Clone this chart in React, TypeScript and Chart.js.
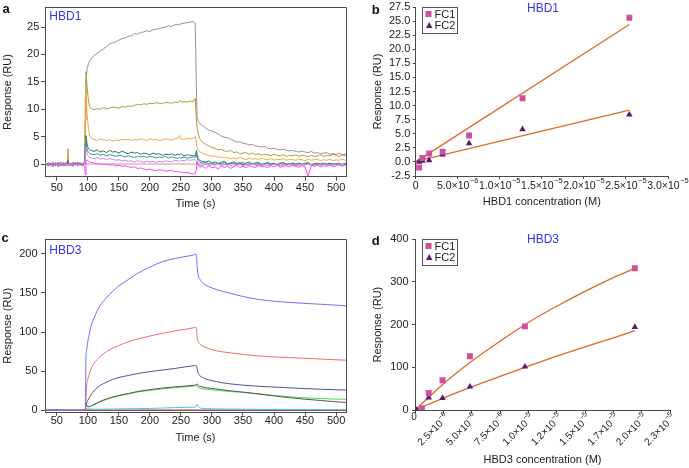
import React, { useEffect, useRef } from "react";
import { Chart, registerables } from "chart.js";
Chart.register(...registerables);

const FONT = "'Liberation Sans', Arial, Helvetica, sans-serif";
const AXIS = "#4a4a4a";
const TXT = "#222222";
const TITLE_BLUE = "#3535f5";
const FIT = "#dc6a24";
const FC1_COLOR = "#cc52a0";
const FC2_COLOR = "#5b1c6e";

// ---------------- Panel a (HBD1 sensorgrams) ----------------
const TA = [
  32, 36, 40, 44, 48, 52, 56, 60, 64, 67, 68, 69, 72, 76, 80, 84, 88, 92, 95,
  96, 97, 99, 101, 103, 106,
  110, 115, 120, 125, 130, 135, 140, 145, 150, 155, 160, 165, 170, 175, 180, 185, 190, 195, 200, 205, 210, 215, 220, 225, 230, 235, 240, 245, 248, 250, 255, 260, 265, 270,
  273, 275,
  276, 278, 281,
  285, 290, 295, 300, 305, 310, 315, 320, 325, 330, 335, 340, 345, 350, 355, 360, 365, 370, 375, 380, 385, 390, 395, 400, 405, 410, 415, 420, 425, 430, 435, 440, 445, 450, 455, 460, 465, 470, 475, 480, 485, 490, 495, 500, 505, 510, 515, 520,
];
const A_MAUVE = [
  0.1, -0.3, 0.2, -0.1, 0.3, -0.2, 0.1, -0.4, 0.2, 0.0, 0.3, -0.1, 0.2, -0.3, 0.1, 0.3, -0.2, 0.2, 0.1,
  8, 15, 17.5, 18.3, 18.8, 19.3,
  19.8, 20.2, 20.6, 21.0, 21.4, 21.9, 22.1, 22.3, 22.6, 22.9, 23.0, 23.3, 23.4, 23.8, 23.7, 24.0, 24.1, 24.3, 24.2, 24.5, 24.6, 24.7, 24.9, 25.0, 25.2, 25.1, 25.4, 25.5, 25.4, 25.6, 25.7, 25.8, 25.9, 26.0,
  25.8, 14,
  8.5, 7.8, 7.3,
  7.0, 6.6, 6.2, 6.0, 5.8, 5.5, 5.1, 4.9, 4.8, 4.5, 4.3, 4.0, 4.1, 3.8, 3.7, 3.5, 3.6, 3.3, 3.2, 3.1, 3.2, 2.9, 2.8, 2.9, 2.7, 2.6, 2.7, 2.5, 2.4, 2.5, 2.3, 2.2, 2.4, 2.2, 2.1, 2.3, 2.0, 2.1, 1.9, 2.0, 2.1, 1.8, 1.9, 1.8, 2.0, 1.7, 1.8, 1.7,
];
const A_OLIVE = [
  -0.2, 0.3, -0.1, 0.2, -0.3, 0.1, 0.4, -0.2, 0.0, 0.5, 2.8, 0.2, -0.3, 0.2, -0.1, 0.3, -0.2, 0.1, 0.3,
  12, 16.8, 14, 11.5, 10.5, 10.1,
  9.9, 10.1, 10.0, 10.3, 10.1, 10.2, 10.4, 10.3, 10.2, 10.5, 10.4, 10.6, 10.5, 10.7, 10.9, 10.8, 11.0, 10.9, 11.1, 11.0, 11.2, 11.1, 11.0, 11.3, 11.2, 11.1, 11.3, 11.2, 11.6, 11.3, 11.4, 11.3, 11.5, 11.4,
  12.0, 8,
  6.5, 5.5, 4.5,
  4.0, 3.6, 3.3, 3.0, 2.9, 2.6, 2.7, 2.4, 2.3, 2.5, 2.1, 2.2, 1.9, 2.0, 2.1, 1.8, 2.0, 1.7, 1.9, 1.6, 1.8, 1.7, 1.5, 1.8, 1.6, 1.5, 1.7, 1.4, 1.6, 1.5, 1.7, 1.4, 1.6, 1.5, 1.3, 1.6, 1.4, 1.5, 1.7, 1.4, 1.6, 1.5, 1.8, 1.6, 1.4, 1.7, 1.5, 1.6,
];
const A_ORANGE = [
  0.3, -0.2, 0.1, -0.4, 0.2, 0.0, -0.2, 0.3, -0.1, 0.2, 1.5, -0.3, 0.1, -0.2, 0.3, 0.0, 0.2, -0.3, 0.1,
  8, 13.5, 9, 6.5, 5.2, 4.7,
  4.5, 4.3, 4.6, 4.4, 4.3, 4.5, 4.2, 4.4, 4.3, 4.5, 4.4, 4.6, 4.3, 4.5, 4.4, 4.6, 4.5, 4.3, 4.6, 4.4, 4.5, 4.3, 4.4, 4.6, 4.5, 4.4, 4.6, 4.7, 5.2, 4.6, 4.5, 4.7, 4.6, 4.7,
  5.0, 4.0,
  3.0, 2.6, 2.2,
  2.0, 1.7, 1.6, 1.4, 1.5, 1.2, 1.3, 1.1, 1.2, 1.0, 1.1, 0.9, 1.2, 1.0, 0.8, 1.1, 0.9, 1.0, 0.8, 1.1, 0.9, 0.8, 1.0, 0.7, 0.9, 0.8, 1.0, 0.7, 0.9, 0.8, 0.7, 0.9, 0.8, 0.6, 0.9, 0.7, 0.8, 0.9, 0.6, 0.8, 0.7, 0.9, 0.6, 0.8, 0.7, 0.9, 0.7, 0.8,
];
const A_GREEN = [
  -0.3, 0.2, -0.1, 0.3, -0.2, 0.1, -0.3, 0.0, 0.2, -0.1, 0.8, 0.1, -0.2, 0.3, -0.1, 0.2, 0.0, -0.3, 0.2,
  3.5, 5.2, 3.5, 2.8, 2.6, 2.5,
  2.3, 2.6, 2.2, 2.4, 2.1, 2.5, 2.2, 2.3, 2.0, 2.4, 2.1, 1.9, 2.2, 2.0, 2.1, 1.8, 2.0, 1.9, 1.7, 2.0, 1.8, 1.9, 1.6, 1.8, 1.7, 1.9, 1.6, 1.8, 1.7, 1.9, 1.5, 1.7, 1.6, 1.5,
  1.6, 2.5,
  1.8, 1.0, 0.6,
  0.5, 0.3, 0.6, 0.2, 0.4, 0.1, 0.3, 0.5, 0.0, 0.2, 0.4, 0.1, 0.3, -0.1, 0.2, 0.4, 0.0, 0.2, 0.3, -0.1, 0.1, 0.3, 0.0, 0.2, -0.2, 0.1, 0.3, 0.0, -0.1, 0.2, 0.0, 0.2, -0.1, 0.1, 0.3, -0.2, 0.0, 0.2, -0.1, 0.1, 0.0, 0.2, -0.2, 0.1, 0.0, -0.1, 0.2, 0.0,
];
const A_TEAL = [
  0.2, -0.4, 0.1, -0.2, 0.3, -0.5, 0.0, 0.2, -0.3, 0.1, 0.3, -0.2, 0.1, -0.4, 0.2, -0.1, 0.3, -0.2, 0.0,
  2.5, 4.0, 2.6, 2.1, 1.9, 1.8,
  1.7, 1.9, 1.6, 1.8, 1.5, 1.7, 1.6, 1.4, 1.6, 1.5, 1.3, 1.5, 1.4, 1.2, 1.4, 1.3, 1.5, 1.2, 1.4, 1.3, 1.1, 1.3, 1.2, 1.4, 1.1, 1.3, 1.2, 1.0, 1.2, 1.1, 1.3, 1.1, 1.2, 1.3,
  1.2, 1.8,
  1.2, 0.6, 0.3,
  0.2, 0.4, 0.0, 0.3, -0.1, 0.2, 0.0, 0.3, -0.2, 0.1, 0.2, -0.1, 0.1, 0.3, -0.2, 0.0, 0.2, -0.1, 0.1, -0.3, 0.0, 0.2, -0.2, 0.1, -0.1, 0.2, 0.0, -0.2, 0.1, 0.0, -0.3, 0.1, -0.1, 0.2, 0.0, -0.2, 0.1, -0.1, 0.0, 0.2, -0.2, 0.0, 0.1, -0.1, 0.2, -0.2, 0.0, 0.1,
];
const A_VIOLET = [
  -0.2, 0.1, -0.4, 0.2, 0.0, -0.3, 0.3, -0.1, 0.1, -0.2, 0.2, 0.0, -0.3, 0.1, 0.3, -0.2, 0.0, 0.2, -0.1,
  2.5, 3.2, 1.8, 1.4, 1.2, 1.1,
  1.0, 1.2, 0.9, 1.1, 0.8, 1.0, 0.9, 0.7, 0.8, 0.6, 0.7, 0.5, 0.6, 0.4, 0.6, 0.5, 0.3, 0.5, 0.4, 0.5, 0.3, 0.5, 0.4, 0.6, 0.5, 0.4, 0.7, 0.6, 0.5, 0.7, 0.6, 0.8, 0.7, 0.8,
  0.8, 0.5,
  0.2, -0.1, -0.3,
  -0.2, 0.0, -0.3, -0.1, -0.2, 0.1, -0.3, -0.1, 0.0, -0.2, -0.4, -0.1, 0.0, -0.3, -0.1, -0.2, 0.1, -0.2, -0.3, 0.0, -0.1, -0.3, -0.2, 0.0, -0.1, -0.3, -0.2, 0.1, -0.1, -0.2, 0.0, -0.3, -0.1, -0.2, 0.0, -0.1, -0.3, 0.0, -0.2, -0.1, 0.1, -0.2, -0.1, 0.0, -0.2, -0.1, 0.0, -0.2,
];
const A_MAGENTA = [
  0.1, -0.3, 0.2, -0.5, 0.0, 0.3, -0.2, 0.1, -0.4, 0.2, 0.0, -0.3, 0.2, -0.1, 0.3, -0.4, 0.1, -0.2, -0.5,
  -2.0, 0.5, 0.8, 0.5, 0.4, 0.3,
  0.2, 0.0, 0.1, -0.1, 0.0, -0.2, -0.1, -0.3, -0.2, -0.4, -0.3, -0.5, -0.6, -0.5, -0.8, -0.7, -0.9, -1.0, -0.9, -1.1, -1.2, -1.0, -1.1, -1.3, -1.2, -1.1, -1.4, -1.3, -1.5, -1.4, -1.6, -1.5, -1.7, -1.8,
  -1.7, -1.0,
  0.5, -0.3, -0.6,
  -0.4, -0.8, -0.3, -0.7, -0.5, -0.9, -0.4, -0.6, -0.3, -0.8, -0.5, -0.2, -0.6, -0.4, -0.7, -0.3, -0.5, -0.6, -0.2, -0.5, -0.4, -0.7, -0.3, -0.5, -0.2, -0.6, -0.4, -0.3, -0.5, -0.2, -0.4, -0.6, -0.3, -0.5, -2.2, -0.3, -0.4, -0.2, -0.5, -0.3, -0.4, -0.2, -0.5, -0.3, -0.1, -0.4, -0.2, -0.3,
];
const A_BASE_T = [96, 516];
const A_BASE = [0, 0];
const A_X_TICKS = [50, 100, 150, 200, 250, 300, 350, 400, 450, 500];
const A_Y_TICKS = [0, 5, 10, 15, 20, 25];

// ---------------- Panel c (HBD3 sensorgrams) ----------------
const TC = [
  32, 50, 70, 90, 95,
  96, 97, 98, 100, 103, 106, 110, 115, 120,
  130, 140, 150, 165, 180, 200, 220, 240, 260, 270, 274, 275,
  276, 278, 281, 285, 290, 300, 315, 330, 350, 375, 400, 425, 450, 475, 500, 520,
];
const C_BLUE = [
  0.4, -0.3, 0.3, 0.0, 0.4,
  2, 68, 77, 88, 100, 110, 118, 127, 134,
  144, 152, 159, 167, 175, 183, 190, 194, 197, 198.5, 199.5, 199,
  185, 172, 167, 163, 160, 156.5, 152.5, 149.5, 145.5, 141.8, 139.5, 138, 136.7, 135.6, 134.5, 133.5,
];
const C_RED = [
  0.2, 0.0, -0.2, 0.3, 0.1,
  1, 15, 30, 40, 48, 54, 60, 65, 69,
  75, 79.5, 83, 87.5, 91, 95, 98.5, 101.5, 104, 105.5, 106, 105.8,
  95, 88, 84.5, 82, 80.5, 77.5, 75, 73.5, 71.5, 69.5, 68.3, 67.5, 66.5, 65.6, 64.6, 64,
];
const C_SLATE = [
  0.3, 0.1, -0.2, 0.2, 0.0,
  1, 6, 9, 13, 17, 21, 25, 29, 32,
  36, 39.5, 42, 44.5, 47, 49.5, 51.5, 53.5, 56, 57, 57.3, 57,
  54, 47, 44, 42, 40, 38, 35.5, 33.8, 32.2, 30.8, 29.8, 28.8, 27.8, 27, 26.3, 25.8,
];
const C_GRAY = [
  -0.2, 0.3, 0.0, -0.3, 0.2,
  1, 9, 7, 5, 5, 6, 7.5, 9.5, 11.5,
  14.5, 17, 19, 21.5, 24, 26.5, 28.5, 30, 31.3, 32, 32.5, 33,
  34, 31.5, 30.5, 29.8, 29, 28, 26.5, 25, 23.3, 21, 18.5, 16.2, 14.3, 12.6, 10.9, 10,
];
const C_GREEN = [
  0.0, -0.2, 0.2, 0.1, -0.1,
  1, 7, 6, 4.5, 4.5, 5.5, 7, 9, 11,
  14, 16.5, 18.5, 21, 23.5, 25.5, 27.5, 29, 30.3, 31, 31.3, 31.5,
  30.5, 29, 28, 27.5, 27, 26.2, 25, 24, 23, 21, 19, 17.4, 16, 15, 14.4, 14,
];
const C_CYAN = [
  0.1, 0.0, 0.2, -0.1, 0.0,
  0.5, 3, 2.5, 2, 1.8, 1.6, 1.5, 1.5, 1.5,
  1.6, 1.7, 1.8, 2, 2.2, 2.5, 3, 3.5, 3.8, 4, 4.2, 6,
  8, 5, 3, 2.5, 2.2, 2, 1.8, 1.6, 1.5, 1.3, 1.2, 1.1, 1, 0.9, 0.8, 0.8,
];
const C_BASE_T = [31, 516];
const C_BASE = [0, 0];
const C_Y_TICKS = [0, 50, 100, 150, 200];

// ---------------- Panel b (HBD1 binding) ----------------
const B_CONC = [4e-7, 8e-7, 1.6e-6, 3.2e-6, 6.35e-6, 1.27e-5, 2.54e-5];
const B_FC1 = [-1.0, 0.7, 1.5, 1.8, 4.7, 11.3, 25.6];
const B_FC2 = [0.0, 0.2, 0.3, 1.3, 3.3, 5.8, 8.4];
const B_FIT_X = [0, 2.54e-5];
const B_FIT1 = [0.0, 24.4];
const B_FIT2 = [0.1, 9.2];
const B_X_TICKS = [0, 5e-6, 1e-5, 1.5e-5, 2e-5, 2.5e-5, 3e-5];
const B_X_LABELS = ["0", "5.0×10⁻⁶", "1.0×10⁻⁵", "1.5×10⁻⁵", "2.0×10⁻⁵", "2.5×10⁻⁵", "3.0×10⁻⁵"];
const B_Y_TICKS = [-2.5, 0, 2.5, 5, 7.5, 10, 12.5, 15, 17.5, 20, 22.5, 25, 27.5];

// ---------------- Panel d (HBD3 binding) ----------------
const D_FC1_X = [6.1e-7, 1.21e-6, 2.43e-6, 4.85e-6, 9.7e-6, 1.94e-5];
const D_FC1 = [4, 40, 69.5, 126, 196, 332];
const D_FC2_X = [1.5e-7, 1.21e-6, 2.43e-6, 4.85e-6, 9.7e-6, 1.94e-5];
const D_FC2 = [0, 29, 28, 54.6, 101.5, 194.5];
const D_FIT_X = [0, 2.5e-6, 5e-6, 7.5e-6, 1e-5, 1.25e-5, 1.5e-5, 1.75e-5, 1.94e-5];
const D_FIT1 = [0, 61, 114, 161, 205, 243, 278, 310, 332];
const D_FIT2 = [0, 28, 54, 79, 103, 126, 148, 169, 186];
const D_X_TICKS = [0, 2.5e-6, 5e-6, 7.5e-6, 1e-5, 1.25e-5, 1.5e-5, 1.75e-5, 2e-5, 2.25e-5];
const D_X_LABELS = ["0", "2.5×10⁻⁶", "5.0×10⁻⁶", "7.5×10⁻⁶", "1.0×10⁻⁵", "1.2×10⁻⁵", "1.5×10⁻⁵", "1.7×10⁻⁵", "2.0×10⁻⁵", "2.3×10⁻⁵"];
const D_Y_TICKS = [0, 100, 200, 300, 400];

// ---------------- helpers ----------------
const pts = (xs: number[], ys: number[]) => xs.map((x, i) => ({ x, y: ys[i] }));

const SUP = "⁰¹²³⁴⁵⁶⁷⁸⁹⁻";
const NORM = "0123456789−";
function splitSci(label: string) {
  let k = -1;
  for (let i = 0; i < label.length; i++) {
    if (SUP.indexOf(label[i]) >= 0) { k = i; break; }
  }
  if (k < 0) return { mant: label, exp: "" };
  const exp = label.slice(k).split("").map((c) => NORM[SUP.indexOf(c)] || c).join("");
  return { mant: label.slice(0, k), exp };
}

type Txt = { text: string; x: number; y: number; font: string; color: string; align?: CanvasTextAlign };
type LegItem = { label: string; style: string; color: string; mx: number; my: number; tx: number; ty: number };
type Leg = { x: number; y: number; w: number; h: number; items: LegItem[] };
type Sci = { ticks: number[]; labels: string[]; rot: boolean; size: number; esize: number; tl: number; dx: number; dy: number };

const ap = (v: number) => Math.round(v - 0.5) + 0.5;

function extras(box: boolean, texts: Txt[], legend?: Leg, sci?: Sci) {
  return {
    id: "extras",
    afterDraw(chart: any) {
      const ctx = chart.ctx as CanvasRenderingContext2D;
      const ca = chart.chartArea;
      ctx.save();
      if (box) {
        ctx.strokeStyle = AXIS;
        ctx.lineWidth = 1;
        ctx.beginPath();
        ctx.moveTo(ap(ca.left), ap(ca.top));
        ctx.lineTo(ap(ca.right), ap(ca.top));
        ctx.lineTo(ap(ca.right), ap(ca.bottom));
        ctx.stroke();
      }
      if (sci) {
        const sx = chart.scales.x;
        const y0 = ca.bottom + sci.tl;
        ctx.fillStyle = TXT;
        ctx.textBaseline = "alphabetic";
        ctx.textAlign = "left";
        sci.ticks.forEach((v, i) => {
          const px = sx.getPixelForValue(v);
          const { mant, exp } = splitSci(sci.labels[i]);
          ctx.font = `${sci.size}px ${FONT}`;
          const wM = ctx.measureText(mant).width;
          ctx.font = `${sci.esize}px ${FONT}`;
          const wE = exp ? ctx.measureText(exp).width + 0.5 : 0;
          const base = 0.72 * sci.size;
          if (!sci.rot || !exp) {
            const x0 = sci.rot ? px - 1 - wM / 2 : px - (wM + wE) / 2;
            const yb = y0 + sci.dy + base;
            ctx.font = `${sci.size}px ${FONT}`;
            ctx.fillText(mant, x0, yb);
            if (exp) {
              ctx.font = `${sci.esize}px ${FONT}`;
              ctx.fillText(exp, x0 + wM + 0.5, yb - 0.5 * sci.size);
            }
          } else {
            ctx.save();
            ctx.translate(px + sci.dx, y0 + sci.dy);
            ctx.rotate(-Math.PI / 4);
            ctx.font = `${sci.size}px ${FONT}`;
            ctx.fillText(mant, -(wM + wE), base);
            ctx.font = `${sci.esize}px ${FONT}`;
            ctx.fillText(exp, -wE + 0.5, base - 0.5 * sci.size);
            ctx.restore();
          }
        });
      }
      if (legend) {
        ctx.strokeStyle = "#555";
        ctx.lineWidth = 1;
        ctx.strokeRect(ap(legend.x), ap(legend.y), Math.round(legend.w), Math.round(legend.h));
        for (const it of legend.items) {
          ctx.fillStyle = it.color;
          if (it.style === "rect") {
            ctx.fillRect(it.mx - 3, it.my - 3, 6, 6);
          } else {
            ctx.beginPath();
            ctx.moveTo(it.mx, it.my - 3.5);
            ctx.lineTo(it.mx + 3.2, it.my + 2.5);
            ctx.lineTo(it.mx - 3.2, it.my + 2.5);
            ctx.closePath();
            ctx.fill();
          }
          ctx.fillStyle = TXT;
          ctx.font = `11px ${FONT}`;
          ctx.textAlign = "left";
          ctx.textBaseline = "alphabetic";
          ctx.fillText(it.label, it.tx, it.ty);
        }
      }
      for (const t of texts) {
        ctx.font = t.font;
        ctx.fillStyle = t.color;
        ctx.textAlign = t.align || "left";
        ctx.textBaseline = "alphabetic";
        ctx.fillText(t.text, t.x, t.y);
      }
      ctx.restore();
    },
  };
}

function axisX(opts: any) {
  return {
    type: "linear",
    min: opts.min,
    max: opts.max,
    afterBuildTicks: (s: any) => {
      s.ticks = opts.ticks.map((v: number) => ({ value: v }));
    },
    afterFit: (s: any) => {
      s.height = opts.height;
      s.paddingLeft = 0;
      s.paddingRight = 0;
    },
    ticks: {
      display: !opts.custom,
      autoSkip: false,
      maxRotation: 0,
      padding: opts.pad,
      color: TXT,
      font: { family: FONT, size: 11 },
      callback: (v: any, i: number) => (opts.labels ? opts.labels[i] : String(v)),
    },
    grid: { drawOnChartArea: false, drawTicks: true, tickLength: opts.tl, color: AXIS },
    border: { display: true, color: AXIS, width: 1 },
    title: {
      display: true,
      text: opts.title,
      color: TXT,
      font: { family: FONT, size: 11 },
      padding: { top: 0, bottom: opts.tpad },
    },
  };
}

function axisY(opts: any) {
  return {
    type: "linear",
    min: opts.min,
    max: opts.max,
    afterBuildTicks: (s: any) => {
      s.ticks = opts.ticks.map((v: number) => ({ value: v }));
    },
    afterFit: (s: any) => {
      s.width = opts.width;
      s.paddingTop = 0;
      s.paddingBottom = 0;
    },
    ticks: {
      autoSkip: false,
      padding: opts.pad,
      color: TXT,
      font: { family: FONT, size: 11 },
      callback: (v: any) => (opts.fmt ? opts.fmt(v) : String(v)),
    },
    grid: { drawOnChartArea: false, drawTicks: true, tickLength: opts.tl, color: AXIS },
    border: { display: true, color: AXIS, width: 1 },
    title: {
      display: true,
      text: "Response (RU)",
      color: TXT,
      font: { family: FONT, size: 11 },
      padding: { top: opts.tpad, bottom: 0 },
    },
  };
}

const line = (data: any[], color: string, width = 1, extra: any = {}) => ({
  data,
  borderColor: color,
  backgroundColor: color,
  borderWidth: width,
  pointRadius: 0,
  showLine: true,
  fill: false,
  tension: 0,
  ...extra,
});

const baseOptions = (padding: any) => ({
  animation: false,
  responsive: false,
  events: [],
  layout: { padding },
  plugins: { legend: { display: false }, tooltip: { enabled: false } },
});

function configA() {
  return {
    type: "line",
    data: {
      datasets: [
        line(pts(TA, A_MAGENTA), "#ff44ff"),
        line(pts(TA, A_VIOLET), "#cf80f0"),
        line(pts(TA, A_TEAL), "#3394a6"),
        line(pts(TA, A_GREEN), "#2b7a4b"),
        line(pts(TA, A_ORANGE), "#f7a446"),
        line(pts(TA, A_OLIVE), "#a9a23a"),
        line(pts(TA, A_MAUVE), "#a48b90"),
        line(pts(A_BASE_T, A_BASE), "#e6cccc", 2),
      ],
    },
    options: {
      ...baseOptions({ left: 0, top: 7.3, right: 4, bottom: 0 }),
      scales: {
        x: axisX({ min: 31, max: 516, ticks: A_X_TICKS, height: 53.3, pad: 1, tl: 4, title: "Time (s)", tpad: 19.4 }),
        y: axisY({ min: -2.3, max: 28.6, ticks: A_Y_TICKS, width: 45, pad: 1.7, tl: 4, tpad: 1.7 }),
      },
    },
    plugins: [
      extras(true, [
        { text: "a", x: 2.5, y: 13.3, font: `bold 13px ${FONT}`, color: "#111" },
        { text: "HBD1", x: 49.3, y: 20, font: `12px ${FONT}`, color: TITLE_BLUE },
      ]),
    ],
  };
}

function configC() {
  const mono = { cubicInterpolationMode: "monotone" };
  return {
    type: "line",
    data: {
      datasets: [
        line(pts(TC, C_BLUE), "#7070f6", 1, mono),
        line(pts(TC, C_RED), "#f26c6c", 1, mono),
        line(pts(TC, C_SLATE), "#50509e", 1, mono),
        line(pts(TC, C_GRAY), "#555555", 1, mono),
        line(pts(TC, C_GREEN), "#44dd44", 1, mono),
        line(pts(TC, C_CYAN), "#44c8f0", 1, mono),
        line(pts(C_BASE_T, C_BASE), "#a24848", 1.5),
      ],
    },
    options: {
      ...baseOptions({ left: 0, top: 9, right: 4, bottom: 0 }),
      scales: {
        x: axisX({ min: 31, max: 516, ticks: A_X_TICKS, height: 55.3, pad: -1, tl: 3, title: "Time (s)", tpad: 23.1 }),
        y: axisY({ min: -3, max: 219, ticks: C_Y_TICKS, width: 45, pad: 3.5, tl: 4, tpad: 1.7 }),
      },
    },
    plugins: [
      extras(true, [
        { text: "c", x: 1.5, y: 12.3, font: `bold 13px ${FONT}`, color: "#111" },
        { text: "HBD3", x: 49.3, y: 24.3, font: `12px ${FONT}`, color: TITLE_BLUE },
      ]),
    ],
  };
}

function scatterSets(x1: number[], y1: number[], x2: number[], y2: number[], fx: number[], f1: number[], f2: number[], mono: boolean) {
  const fitExtra = mono ? { cubicInterpolationMode: "monotone" } : {};
  return [
    { data: pts(x1, y1), showLine: false, pointStyle: "rect", pointRadius: 4.2, backgroundColor: FC1_COLOR, borderColor: FC1_COLOR, borderWidth: 0 },
    { data: pts(x2, y2), showLine: false, pointStyle: "triangle", pointRadius: 3.8, backgroundColor: FC2_COLOR, borderColor: FC2_COLOR, borderWidth: 0 },
    line(pts(fx, f1), FIT, 1.3, fitExtra),
    line(pts(fx, f2), FIT, 1.3, fitExtra),
  ];
}

function legendAt(y0: number): Leg {
  return {
    x: 77.3,
    y: y0,
    w: 35,
    h: 26,
    items: [
      { label: "FC1", style: "rect", color: FC1_COLOR, mx: 83.5, my: y0 + 6.7, tx: 89.5, ty: y0 + 11 },
      { label: "FC2", style: "triangle", color: FC2_COLOR, mx: 84.2, my: y0 + 18.2, tx: 89.5, ty: y0 + 22 },
    ],
  };
}

function configB() {
  return {
    type: "scatter",
    data: { datasets: scatterSets(B_CONC, B_FC1, B_CONC, B_FC2, B_FIT_X, B_FIT1, B_FIT2, false) },
    options: {
      ...baseOptions({ left: 0, top: 7, right: 21, bottom: 0 }),
      scales: {
        x: axisX({ min: 0, max: 3e-5, ticks: B_X_TICKS, labels: B_X_LABELS, custom: true, height: 54, pad: 0, tl: 3, title: "HBD1 concentration (M)", tpad: 21.1 }),
        y: axisY({ min: -2.5, max: 27.5, ticks: B_Y_TICKS, width: 70.7, pad: 2.4, tl: 3, tpad: 26.7, fmt: (v: number) => v.toFixed(1) }),
      },
    },
    plugins: [
      extras(
        false,
        [
          { text: "b", x: 26.7, y: 14, font: `bold 13px ${FONT}`, color: "#111" },
          { text: "HBD1", x: 198, y: 11.7, font: `12px ${FONT}`, color: TITLE_BLUE, align: "center" },
        ],
        legendAt(7.3),
        { ticks: B_X_TICKS, labels: B_X_LABELS, rot: false, size: 10.5, esize: 7.5, tl: 3, dx: 0, dy: 2 }
      ),
    ],
  };
}

function configD() {
  return {
    type: "scatter",
    data: { datasets: scatterSets(D_FC1_X, D_FC1, D_FC2_X, D_FC2, D_FIT_X, D_FIT1, D_FIT2, true) },
    options: {
      ...baseOptions({ left: 0, top: 9.3, right: 19, bottom: 0 }),
      scales: {
        x: axisX({ min: 0, max: 2.25e-5, ticks: D_X_TICKS, labels: D_X_LABELS, custom: true, height: 58, pad: 1, tl: 3, title: "HBD3 concentration (M)", tpad: 1.4 }),
        y: axisY({ min: 0, max: 400, ticks: D_Y_TICKS, width: 70, pad: 3.5, tl: 3, tpad: 26.7 }),
      },
    },
    plugins: [
      extras(
        false,
        [
          { text: "d", x: 26.7, y: 15, font: `bold 13px ${FONT}`, color: "#111" },
          { text: "HBD3", x: 198, y: 13.3, font: `12px ${FONT}`, color: TITLE_BLUE, align: "center" },
        ],
        legendAt(9.3),
        { ticks: D_X_TICKS, labels: D_X_LABELS, rot: true, size: 10, esize: 7, tl: 3, dx: 1, dy: 0 }
      ),
    ],
  };
}

function Panel({ left, top, width, height, make }: { left: number; top: number; width: number; height: number; make: () => any }) {
  const ref = useRef<HTMLCanvasElement | null>(null);
  useEffect(() => {
    if (!ref.current) return;
    const chart = new Chart(ref.current, make());
    return () => chart.destroy();
  }, []);
  return (
    <canvas
      ref={ref}
      width={width}
      height={height}
      style={{ position: "absolute", left, top, width, height, display: "block" }}
    />
  );
}

export default function App() {
  return (
    <div
      style={{
        position: "absolute",
        left: 0,
        top: 0,
        width: 689,
        height: 468,
        overflow: "hidden",
        background: "#ffffff",
      }}
    >
      <Panel left={0} top={0} width={350} height={230} make={configA} />
      <Panel left={0} top={230} width={350} height={238} make={configC} />
      <Panel left={345} top={0} width={344} height={230} make={configB} />
      <Panel left={345} top={230} width={344} height={238} make={configD} />
    </div>
  );
}
